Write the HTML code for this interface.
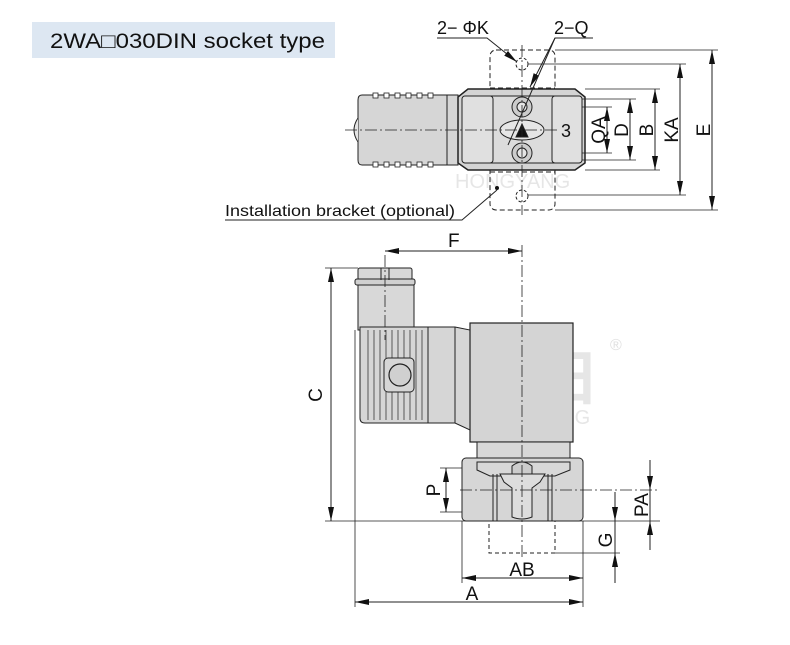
<!DOCTYPE html>
<html><head><meta charset="utf-8"><style>
html,body{margin:0;padding:0;background:#fff;}
svg{display:block;}
text{font-family:"Liberation Sans","Noto Sans CJK SC",sans-serif;}
</style></head><body>
<svg width="790" height="645" viewBox="0 0 790 645" xmlns="http://www.w3.org/2000/svg">
<defs>
<marker id="ar" viewBox="0 0 14 8" refX="14" refY="4" markerWidth="14" markerHeight="8" orient="auto-start-reverse" markerUnits="userSpaceOnUse"><path d="M0,1 L14,4 L0,7 z" fill="#111"/></marker>
</defs>
<!-- title -->
<rect x="32" y="22" width="303" height="36" fill="#dde7f2"/>
<text x="50" y="48" font-size="21" fill="#111" textLength="275" lengthAdjust="spacingAndGlyphs">2WA□030DIN socket type</text>

<!-- watermarks -->
<text x="445" y="150" font-size="60" fill="#e6e6e6" font-weight="bold">弘阳</text>
<text x="455" y="188" font-size="20" fill="#e6e6e6">HONGYANG</text>
<text x="475" y="400" font-size="60" fill="#e6e6e6" font-weight="bold">弘阳</text>
<text x="475" y="424" font-size="20" fill="#e6e6e6">HONGYANG</text>
<text x="610" y="350" font-size="16" fill="#e0e0e0">®</text>

<!-- ===== TOP VIEW ===== -->
<g stroke="#222" stroke-width="1" fill="none">
<rect x="490" y="50" width="65" height="160" rx="6" stroke-dasharray="5,3"/>
<line x1="490" y1="88" x2="555" y2="88" stroke-dasharray="5,3"/>
<line x1="490" y1="172" x2="555" y2="172" stroke-dasharray="5,3"/>
<circle cx="522" cy="64" r="6" stroke-dasharray="3,2"/>
<circle cx="522" cy="196" r="6" stroke-dasharray="3,2"/>
<path d="M362,95 L458,95 L458,165 L362,165 Q358,165 358,160 L358,100 Q358,95 362,95 z" fill="#d6d6d6"/>
<path d="M358,118 Q350,130 358,142" fill="#e4e4e4"/>
<line x1="447" y1="95" x2="447" y2="165"/>
<g fill="#fff" stroke-width="0.8">
<rect x="373" y="93" width="5" height="5"/><rect x="384" y="93" width="5" height="5"/><rect x="395" y="93" width="5" height="5"/><rect x="406" y="93" width="5" height="5"/><rect x="417" y="93" width="5" height="5"/><rect x="428" y="93" width="5" height="5"/>
<rect x="373" y="162" width="5" height="5"/><rect x="384" y="162" width="5" height="5"/><rect x="395" y="162" width="5" height="5"/><rect x="406" y="162" width="5" height="5"/><rect x="417" y="162" width="5" height="5"/><rect x="428" y="162" width="5" height="5"/>
</g>
<path d="M468,89 L575,89 L585,97 L585,163 L575,170 L468,170 L458,163 L458,97 z" fill="#d4d4d4" stroke-width="1.5"/>
<rect x="462" y="96" width="120" height="67" rx="4" fill="#dcdcdc"/>
<rect x="462" y="96" width="31" height="67" rx="3" fill="#e0e0e0"/>
<rect x="552" y="96" width="30" height="67" rx="3" fill="#e0e0e0"/>
<circle cx="522" cy="107" r="10" fill="#ccc"/><circle cx="522" cy="107" r="5" fill="#e5e5e5"/>
<circle cx="522" cy="153" r="10" fill="#ccc"/><circle cx="522" cy="153" r="5" fill="#e5e5e5"/>
<ellipse cx="522" cy="130" rx="22" ry="10" fill="#e6e6e6"/>
<path d="M516,137 L522,124 L528,137 z" fill="#111"/>
<line x1="345" y1="130" x2="560" y2="130" stroke-dasharray="12,3,2,3" stroke-width="0.8"/>
<line x1="522" y1="45" x2="522" y2="215" stroke-dasharray="12,3,2,3" stroke-width="0.8"/>
<line x1="555" y1="50" x2="718" y2="50" stroke-width="0.8"/>
<line x1="555" y1="210" x2="718" y2="210" stroke-width="0.8"/>
<line x1="528" y1="64" x2="686" y2="64" stroke-width="0.8"/>
<line x1="528" y1="195" x2="686" y2="195" stroke-width="0.8"/>
<line x1="585" y1="89" x2="660" y2="89" stroke-width="0.8"/>
<line x1="585" y1="170" x2="660" y2="170" stroke-width="0.8"/>
<line x1="582" y1="99" x2="636" y2="99" stroke-width="0.8"/>
<line x1="582" y1="160" x2="636" y2="160" stroke-width="0.8"/>
<line x1="582" y1="107" x2="612" y2="107" stroke-width="0.8"/>
<line x1="582" y1="153" x2="612" y2="153" stroke-width="0.8"/>
<line x1="607" y1="107" x2="607" y2="153" marker-start="url(#ar)" marker-end="url(#ar)"/>
<line x1="630" y1="99" x2="630" y2="160" marker-start="url(#ar)" marker-end="url(#ar)"/>
<line x1="655" y1="89" x2="655" y2="170" marker-start="url(#ar)" marker-end="url(#ar)"/>
<line x1="680" y1="64" x2="680" y2="195" marker-start="url(#ar)" marker-end="url(#ar)"/>
<line x1="712" y1="50" x2="712" y2="210" marker-start="url(#ar)" marker-end="url(#ar)"/>
<polyline points="437,38 487,38 517,62" marker-end="url(#ar)"/>
<polyline points="593,38 555,38 530,87" marker-end="url(#ar)"/>
<line x1="555" y1="38" x2="508" y2="145"/>
<polyline points="225,220 462,220 497,190"/>
</g>
<circle cx="497" cy="188" r="2" fill="#111"/>
<g font-size="19" fill="#111">
<text x="437" y="34" font-size="18">2− ΦK</text>
<text x="554" y="34" font-size="18">2−Q</text>
<text x="561" y="137" font-size="18">3</text>
<text transform="translate(605,130) rotate(-90)" text-anchor="middle">QA</text>
<text transform="translate(628,130) rotate(-90)" text-anchor="middle">D</text>
<text transform="translate(653,130) rotate(-90)" text-anchor="middle">B</text>
<text transform="translate(678,130) rotate(-90)" text-anchor="middle">KA</text>
<text transform="translate(710,130) rotate(-90)" text-anchor="middle">E</text>
<text x="225" y="216" font-size="16" textLength="230" lengthAdjust="spacingAndGlyphs">Installation bracket (optional)</text>
</g>

<!-- ===== SIDE VIEW ===== -->
<g stroke="#222" stroke-width="1" fill="none">
<rect x="358" y="268" width="54" height="12" rx="2" fill="#d8d8d8"/>
<rect x="355" y="279" width="60" height="6" rx="2" fill="#d0d0d0"/>
<line x1="381" y1="268" x2="381" y2="280"/><line x1="389" y1="268" x2="389" y2="280"/>
<path d="M358,285 L414,285 L414,330 L358,330 z" fill="#d8d8d8"/>
<path d="M360,327 L455,327 L470,330 L470,430 L455,423 L365,423 Q360,423 360,418 z" fill="#d6d6d6"/>
<line x1="455" y1="327" x2="455" y2="423"/>
<line x1="428" y1="327" x2="428" y2="423"/>
<g stroke-width="0.7">
<line x1="368" y1="330" x2="368" y2="420"/><line x1="374" y1="330" x2="374" y2="420"/><line x1="380" y1="330" x2="380" y2="420"/>
<line x1="386" y1="330" x2="386" y2="358"/><line x1="392" y1="330" x2="392" y2="358"/><line x1="398" y1="330" x2="398" y2="358"/><line x1="404" y1="330" x2="404" y2="358"/><line x1="410" y1="330" x2="410" y2="358"/>
<line x1="386" y1="392" x2="386" y2="420"/><line x1="392" y1="392" x2="392" y2="420"/><line x1="398" y1="392" x2="398" y2="420"/><line x1="404" y1="392" x2="404" y2="420"/><line x1="410" y1="392" x2="410" y2="420"/>
<line x1="416" y1="330" x2="416" y2="420"/><line x1="422" y1="330" x2="422" y2="420"/>
</g>
<rect x="384" y="358" width="30" height="34" rx="4" fill="#d6d6d6"/>
<circle cx="400" cy="375" r="11" fill="#d0d0d0" stroke-width="1.2"/>
<rect x="470" y="323" width="103" height="119" fill="#d4d4d4" stroke-width="1.2"/>
<path d="M477,442 L570,442 L570,462 L555,470 L490,470 L477,462 z" fill="#d8d8d8"/>
<rect x="462" y="458" width="121" height="63" rx="4" fill="#d6d6d6"/>
<path d="M477,462 L570,462 L570,470 L555,476 L490,476 L477,470 z" fill="#d8d8d8"/>
<line x1="493" y1="474" x2="493" y2="521"/><line x1="497" y1="474" x2="497" y2="521"/>
<line x1="548" y1="474" x2="548" y2="521"/><line x1="552" y1="474" x2="552" y2="521"/>
<path d="M512,466 Q522,458 532,466 L532,474 L512,474 z" fill="#ccc"/>
<path d="M500,474 L545,474 L540,482 L532,488 L532,517 Q522,521 512,517 L512,488 L504,482 z" fill="#ddd"/>
<rect x="489" y="521" width="66" height="32" stroke-dasharray="4,3"/>
<line x1="522" y1="245" x2="522" y2="560" stroke-dasharray="12,3,2,3" stroke-width="0.8"/>
<line x1="385" y1="255" x2="385" y2="340" stroke-dasharray="12,3,2,3" stroke-width="0.8"/>
<line x1="460" y1="490" x2="660" y2="490" stroke-dasharray="12,3,2,3" stroke-width="0.8"/>
<line x1="325" y1="268" x2="358" y2="268" stroke-width="0.8"/>
<line x1="325" y1="521" x2="660" y2="521" stroke-width="0.8"/>
<line x1="555" y1="553" x2="620" y2="553" stroke-width="0.8"/>
<line x1="440" y1="468" x2="462" y2="468" stroke-width="0.8"/>
<line x1="440" y1="512" x2="462" y2="512" stroke-width="0.8"/>
<line x1="355" y1="330" x2="355" y2="607" stroke-width="0.8"/>
<line x1="462" y1="521" x2="462" y2="583" stroke-width="0.8"/>
<line x1="583" y1="521" x2="583" y2="607" stroke-width="0.8"/>
<line x1="331" y1="268" x2="331" y2="521" marker-start="url(#ar)" marker-end="url(#ar)"/>
<line x1="385" y1="251" x2="522" y2="251" marker-start="url(#ar)" marker-end="url(#ar)"/>
<line x1="446" y1="468" x2="446" y2="512" marker-start="url(#ar)" marker-end="url(#ar)"/>
<line x1="462" y1="578" x2="583" y2="578" marker-start="url(#ar)" marker-end="url(#ar)"/>
<line x1="355" y1="602" x2="583" y2="602" marker-start="url(#ar)" marker-end="url(#ar)"/>
<line x1="650" y1="460" x2="650" y2="490" marker-end="url(#ar)"/>
<line x1="650" y1="550" x2="650" y2="521" marker-end="url(#ar)"/>
<line x1="650" y1="490" x2="650" y2="521"/>
<line x1="615" y1="492" x2="615" y2="521" marker-end="url(#ar)"/>
<line x1="615" y1="583" x2="615" y2="553" marker-end="url(#ar)"/>
<line x1="615" y1="521" x2="615" y2="553"/>
</g>
<g font-size="19" fill="#111">
<text x="448" y="247">F</text>
<text transform="translate(322,395) rotate(-90)" text-anchor="middle">C</text>
<text transform="translate(440,490) rotate(-90)" text-anchor="middle">P</text>
<text transform="translate(648,505) rotate(-90)" text-anchor="middle">PA</text>
<text transform="translate(612,540) rotate(-90)" text-anchor="middle">G</text>
<text x="522" y="576" text-anchor="middle">AB</text>
<text x="472" y="600" text-anchor="middle">A</text>
</g>
</svg>
</body></html>
